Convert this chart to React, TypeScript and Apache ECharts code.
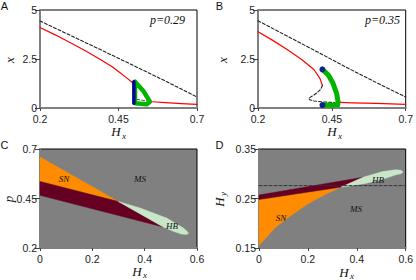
import React, { useEffect, useRef } from "react";
import * as echarts from "echarts";

// ---------- Panel A (p = 0.29) ----------
const aDashHx = [0.2, 0.3, 0.4, 0.5, 0.6, 0.7];
const aDashX = [4.44, 3.68, 2.92, 2.15, 1.37, 0.56];
const aRedUpHx = [0.2, 0.25, 0.3, 0.35, 0.4, 0.43, 0.455, 0.475, 0.497];
const aRedUpX = [4.11, 3.72, 3.3, 2.87, 2.4, 2.1, 1.8, 1.55, 1.26];
const aRedLowHx = [0.556, 0.6, 0.65, 0.7];
const aRedLowX = [0.32, 0.27, 0.22, 0.18];
const aInnerDashHx = [0.508, 0.54];
const aInnerDashX = [0.44, 0.36];
const aLoopHx = [0.5025, 0.53, 0.55, 0.54, 0.5025, 0.5025];
const aLoopX = [1.34, 0.85, 0.32, 0.19, 0.24, 1.34];
const aBlueHx = [0.499, 0.499];
const aBlueX = [0.24, 1.34];

// ---------- Panel B (p = 0.35) ----------
const bDashHx = [0.2, 0.3, 0.4, 0.5, 0.6, 0.7];
const bDashX = [4.45, 3.66, 2.87, 2.07, 1.3, 0.56];
const bRedUpHx = [0.2, 0.25, 0.3, 0.35, 0.39, 0.41, 0.418];
const bRedUpX = [3.89, 3.45, 2.97, 2.45, 1.95, 1.5, 1.15];
const bFoldHx = [0.418, 0.412, 0.4, 0.385, 0.372, 0.375, 0.39, 0.42, 0.46];
const bFoldX = [1.15, 0.95, 0.78, 0.62, 0.5, 0.42, 0.36, 0.31, 0.28];
const bRedLowHx = [0.477, 0.52, 0.6, 0.7];
const bRedLowX = [0.29, 0.265, 0.235, 0.19];
const bGreenHx = [0.418, 0.438, 0.454, 0.466, 0.471, 0.47, 0.418];
const bGreenX = [1.97, 1.68, 1.26, 0.75, 0.32, 0.15, 0.15];
const bDotHx = [0.418, 0.418];
const bDotX = [1.97, 0.15];

// ---------- Panel C (Hx vs p) ----------
const cOrangeHx = [0, 0.299, 0];
const cOrangeP = [0.659, 0.435, 0.536];
const cMaroonHx = [0, 0.299, 0.471, 0];
const cMaroonP = [0.536, 0.435, 0.306, 0.466];
const cGreenHx = [0.299, 0.382, 0.484, 0.548, 0.562, 0.568, 0.56, 0.54, 0.51, 0.471];
const cGreenP = [0.435, 0.402, 0.351, 0.301, 0.284, 0.274, 0.268, 0.271, 0.284, 0.306];

// ---------- Panel D (Hx vs Hy) ----------
const dOrangeHx = [0, 0.336, 0.266, 0.199, 0.132, 0.066, 0];
const dOrangeHy = [0.248, 0.273, 0.257, 0.239, 0.216, 0.191, 0.155];
const dMaroonHx = [0, 0.426, 0.336, 0];
const dMaroonHy = [0.257, 0.293, 0.273, 0.248];
const dGreenHx = [0.336, 0.426, 0.506, 0.56, 0.582, 0.589, 0.58, 0.56, 0.506, 0.44, 0.373];
const dGreenHy = [0.273, 0.293, 0.3045, 0.308, 0.307, 0.303, 0.3, 0.2978, 0.289, 0.281, 0.2754];
const dDashHx = [0, 0.6];
const dDashHy = [0.276, 0.276];

const zip = (xs: number[], ys: number[]) => xs.map((x, i) => [x, ys[i]]);

const SANS = '"Liberation Sans", Arial, sans-serif';
const SERIF = '"Liberation Serif", "Times New Roman", serif';

function xAx(gi: number, min: number, max: number, interval: number) {
  return {
    type: "value",
    gridIndex: gi,
    min,
    max,
    interval,
    axisLine: { show: true, onZero: false, lineStyle: { color: "#808080", width: 2 } },
    axisTick: { show: true, length: 3, lineStyle: { color: "#444" } },
    axisLabel: { fontSize: 10.5, color: "#222", margin: 5, fontFamily: SANS },
    splitLine: { show: false },
  };
}
function yAx(gi: number, min: number, max: number, interval: number) {
  return {
    type: "value",
    gridIndex: gi,
    min,
    max,
    interval,
    axisLine: { show: true, onZero: false, lineStyle: { color: "#808080", width: 2 } },
    axisTick: { show: true, length: 5, lineStyle: { color: "#444" } },
    axisLabel: { fontSize: 10.5, color: "#222", margin: 3, fontFamily: SANS },
    splitLine: { show: false },
  };
}

function line(idx: number, xs: number[], ys: number[], color: string, width: number, dashed = false, z = 3) {
  return {
    type: "line",
    xAxisIndex: idx,
    yAxisIndex: idx,
    data: zip(xs, ys),
    showSymbol: false,
    symbol: "none",
    silent: true,
    z,
    lineStyle: { color, width, type: dashed ? [3, 2] : "solid", cap: "round", join: "round" },
  };
}

function poly(idx: number, xs: number[], ys: number[], color: string) {
  const pts = zip(xs, ys);
  return {
    type: "custom",
    xAxisIndex: idx,
    yAxisIndex: idx,
    silent: true,
    z: 1,
    data: [pts[0]],
    renderItem: (_p: any, api: any) => ({
      type: "polygon",
      shape: { points: pts.map((p) => api.coord(p)) },
      style: { fill: color, stroke: color, lineWidth: 0.5 },
    }),
  };
}

function txt(x: number, y: number, text: string, font: string, rotation = 0, fill = "#111") {
  return {
    type: "text",
    x,
    y,
    z: 100,
    rotation,
    silent: true,
    style: { text, font, fill, textAlign: "center", textVerticalAlign: "middle" },
  };
}

function subLabel(x: number, y: number, main: string, sub: string, rotation = 0) {
  return {
    type: "group",
    x,
    y,
    z: 100,
    rotation,
    silent: true,
    children: [
      { type: "text", x: -2, y: 0, z: 100, style: { text: main, font: `italic 13px ${SERIF}`, fill: "#111", textAlign: "center", textVerticalAlign: "middle" } },
      { type: "text", x: 4, y: 4, z: 100, style: { text: sub, font: `italic 9px ${SERIF}`, fill: "#111", textAlign: "left", textVerticalAlign: "middle" } },
    ],
  };
}

export default function App() {
  const ref = useRef<HTMLDivElement>(null);
  useEffect(() => {
    document.body.style.margin = "0";
    const chart = echarts.init(ref.current!, null, { renderer: "svg" });
    const gridBase = { show: true, borderColor: "#000", borderWidth: 1, containLabel: false };
    const option: any = {
      animation: false,
      grid: [
        { ...gridBase, left: 40, top: 10, width: 157, height: 98, backgroundColor: "#fff" },
        { ...gridBase, left: 258, top: 10, width: 151, height: 98, backgroundColor: "#fff" },
        { ...gridBase, left: 40, top: 149, width: 157, height: 99, backgroundColor: "#808080" },
        { ...gridBase, left: 259, top: 149, width: 150, height: 99, backgroundColor: "#808080" },
      ],
      xAxis: [xAx(0, 0.2, 0.7, 0.25), xAx(1, 0.2, 0.7, 0.25), xAx(2, 0, 0.6, 0.2), xAx(3, 0, 0.6, 0.2)],
      yAxis: [yAx(0, 0, 5, 2.5), yAx(1, 0, 5, 2.5), yAx(2, 0.2, 0.7, 0.25), yAx(3, 0.15, 0.35, 0.1)],
      series: [
        // A
        line(0, aDashHx, aDashX, "#222", 1.1, true),
        line(0, aRedUpHx, aRedUpX, "#ff0000", 1.2),
        line(0, aRedLowHx, aRedLowX, "#ff0000", 1.2),
        line(0, aInnerDashHx, aInnerDashX, "#555", 1, true),
        line(0, aLoopHx, aLoopX, "#00b400", 4.5, false, 4),
        line(0, aBlueHx, aBlueX, "#000099", 3.5, false, 5),
        // B
        line(1, bDashHx, bDashX, "#222", 1.1, true),
        line(1, bRedUpHx, bRedUpX, "#ff0000", 1.2),
        line(1, bFoldHx, bFoldX, "#222", 1.1, true),
        line(1, bRedLowHx, bRedLowX, "#ff0000", 1.2),
        line(1, bGreenHx, bGreenX, "#00b400", 5, false, 4),
        {
          type: "scatter",
          xAxisIndex: 1,
          yAxisIndex: 1,
          data: zip(bDotHx, bDotX),
          symbolSize: 6,
          itemStyle: { color: "#0000aa" },
          silent: true,
          z: 5,
        },
        // C
        poly(2, cOrangeHx, cOrangeP, "#ff8c00"),
        poly(2, cMaroonHx, cMaroonP, "#660022"),
        poly(2, cGreenHx, cGreenP, "#c8e6c8"),
        // D
        poly(3, dOrangeHx, dOrangeHy, "#ff8c00"),
        poly(3, dMaroonHx, dMaroonHy, "#660022"),
        poly(3, dGreenHx, dGreenHy, "#c8e6c8"),
        line(3, dDashHx, dDashHy, "#333", 1, true),
      ],
      graphic: [
        txt(4.5, 6, "A", `11px ${SANS}`),
        txt(219.5, 6, "B", `11px ${SANS}`),
        txt(4.5, 145, "C", `11px ${SANS}`),
        txt(219.5, 145, "D", `11px ${SANS}`),
        txt(167.5, 20, "p=0.29", `italic 12px ${SERIF}`),
        txt(382.5, 20, "p=0.35", `italic 12px ${SERIF}`),
        txt(9.5, 60, "x", `italic 13px ${SERIF}`, Math.PI / 2),
        txt(222, 60, "x", `italic 13px ${SERIF}`, Math.PI / 2),
        txt(8.5, 199, "p", `italic 13px ${SERIF}`, Math.PI / 2),
        subLabel(118, 131.5, "H", "x"),
        subLabel(334, 131.5, "H", "x"),
        subLabel(139, 271, "H", "x"),
        subLabel(346, 272, "H", "x"),
        subLabel(219, 200, "H", "y", Math.PI / 2),
        txt(64, 179, "SN", `italic 9px ${SERIF}`),
        txt(140, 179, "MS", `italic 9px ${SERIF}`),
        txt(172, 226, "HB", `italic 9px ${SERIF}`),
        txt(378, 179.5, "HB", `italic 9px ${SERIF}`),
        txt(356, 209, "MS", `italic 9px ${SERIF}`),
        txt(281, 218, "SN", `italic 9px ${SERIF}`),
      ],
    };
    chart.setOption(option);
    return () => chart.dispose();
  }, []);
  return <div ref={ref} style={{ width: 416, height: 280 }} />;
}
